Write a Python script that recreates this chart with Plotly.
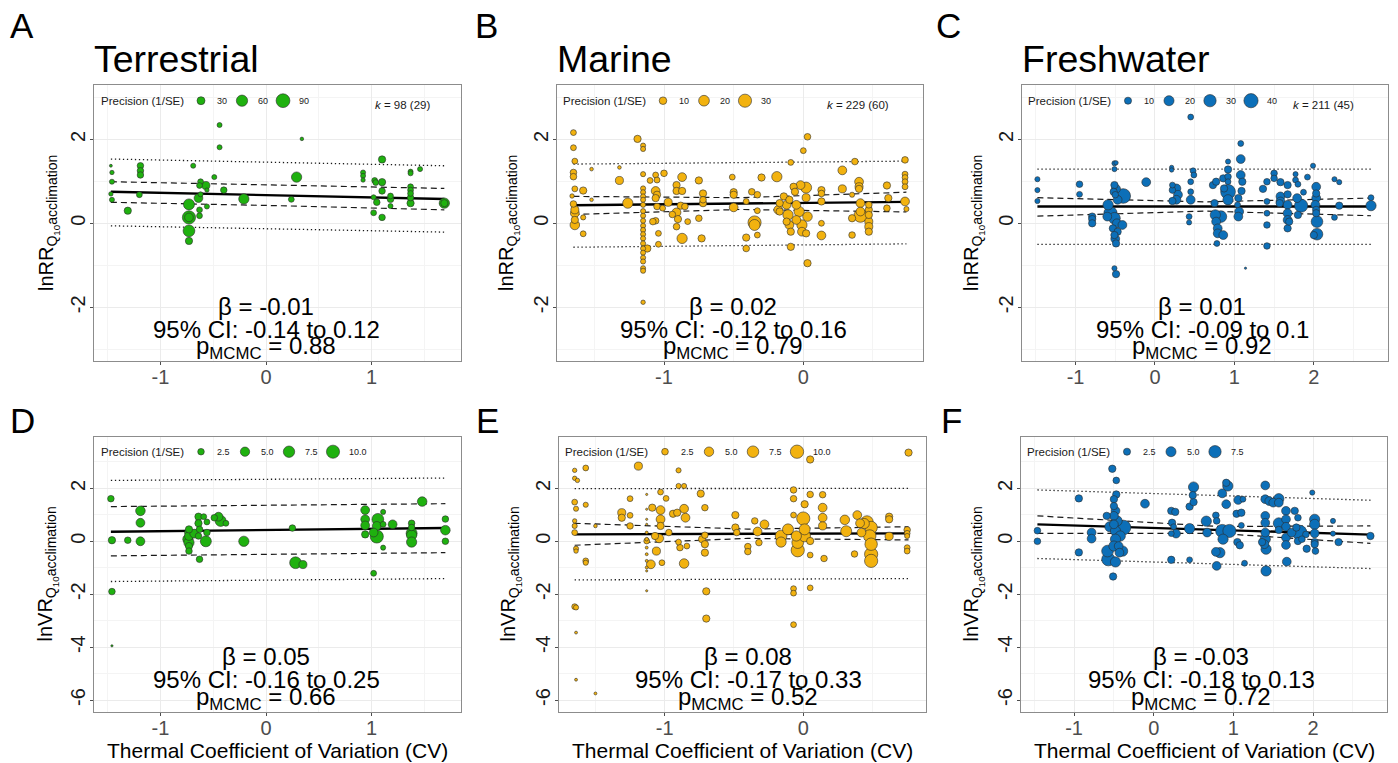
import math
import plotly.graph_objects as go

W, H = 1398, 763
FONT = "Liberation Sans, Arial, Helvetica, sans-serif"

GREEN = "#1FB10F"
GOLD = "#F2B20F"
BLUE = "#0C6FB8"

# ---------------- Panel A: Terrestrial lnRR ----------------
A_x = [-1.47,-1.46,-1.46,-1.47,-1.46,-1.31,-1.19,-1.19,-1.19,-1.20,
       -0.73,-0.73,-0.73,-0.73,-0.73,-0.69,-0.62,-0.63,-0.57,-0.56,
       -0.62,-0.64,-0.63,-0.63,-0.56,-0.49,-0.44,-0.44,-0.40,-0.21,
       0.24,0.29,0.34,0.92,0.92,0.92,1.10,1.03,1.04,1.10,
       1.10,1.02,1.05,1.02,1.10,1.18,1.18,1.18,1.37,1.37,
       1.37,1.37,1.37,1.37,1.37,1.46,1.69,1.69]
A_y = [1.37,1.21,0.99,0.70,0.56,0.30,1.37,1.25,1.15,0.68,
       0.45,0.14,0.14,-0.18,-0.42,1.37,0.99,0.90,0.90,0.79,
       0.69,0.60,0.32,0.18,0.40,1.10,2.34,1.81,0.79,0.58,
       0.57,1.10,2.01,1.21,1.13,1.03,1.52,1.02,0.97,0.98,
       0.77,0.62,0.50,0.25,0.14,0.65,0.57,0.41,1.23,1.19,
       0.87,0.79,0.71,0.61,0.48,1.29,0.48,0.48]
A_prec = [4,9,12,9,12,25,20,20,20,16,
          57,82,36,65,25,12,16,16,31,9,
          12,36,16,16,12,12,12,12,20,50,
          16,50,6,12,12,9,25,16,16,25,
          20,12,20,16,20,16,20,12,12,12,
          16,16,16,20,25,12,50,25]

# ---------------- Panel B: Marine lnRR ----------------
B_x = [-1.65,-1.65,-1.64,-1.65,-1.65,-1.64,-1.66,-1.65,-1.64,-1.64,
       -1.64,-1.64,-1.58,-1.58,-1.58,-1.52,-1.52,-1.32,-1.32,-1.26,
       -1.19,-1.15,-1.15,-1.15,-1.15,-1.15,-1.15,-1.15,-1.15,-1.15,
       -1.15,-1.15,-1.15,-1.15,-1.15,-1.15,-1.15,-1.15,-1.15,-1.15,
       -1.15,-1.15,-1.15,-1.15,-1.12,-1.10,-1.06,-1.05,-1.00,-1.06,
       -1.05,-1.06,-1.05,-1.06,-1.08,-1.04,-1.04,-1.01,-0.97,-0.91,
       -0.91,-0.87,-0.87,-0.88,-0.91,-0.90,-0.94,-0.91,-0.87,-0.85,
       -0.83,-0.75,-0.72,-0.72,-0.72,-0.75,-0.73,-0.51,-0.50,-0.50,
       -0.50,-0.41,-0.41,-0.41,-0.37,-0.35,-0.35,-0.33,-0.33,-0.33,
       -0.30,-0.19,-0.09,-0.17,-0.18,-0.17,-0.14,-0.12,-0.11,-0.12,
       -0.10,-0.10,-0.09,-0.09,-0.07,-0.06,-0.05,-0.05,-0.03,-0.02,
       -0.01,-0.01,0.02,0.02,0.03,0.02,0.00,0.03,0.03,0.13,
       0.13,0.13,0.13,0.13,0.28,0.28,0.35,0.37,0.35,0.35,
       0.40,0.40,0.40,0.41,0.41,0.41,0.47,0.47,0.47,0.47,
       0.47,0.47,0.60,0.61,0.60,0.73,0.73,0.73,0.73,0.73,
       0.73,0.74]
B_y = [2.16,1.80,1.48,1.21,1.11,0.82,0.65,0.46,0.32,0.24,
       -0.04,0.08,0.78,0.14,-0.25,1.29,0.56,1.33,1.02,0.48,
       2.01,1.85,1.77,1.17,0.83,0.74,0.64,0.56,0.44,0.29,
       0.18,0.06,-0.06,-0.16,-0.26,-0.36,-0.48,-0.60,-0.70,-0.82,
       -0.91,-1.07,-1.13,-1.88,-0.60,1.02,1.15,1.03,1.19,0.77,
       0.68,0.60,0.40,0.06,0.04,-0.24,-0.50,0.36,0.50,0.91,
       0.77,0.77,1.10,0.42,0.26,0.10,0.21,-0.08,-0.36,0.40,
       0.04,1.02,0.71,0.56,0.48,0.12,-0.36,1.10,0.74,0.68,
       0.38,0.52,-0.34,-0.60,0.75,0.02,-0.04,0.68,0.30,-0.28,
       1.09,1.11,1.45,0.48,0.32,0.28,0.64,0.44,0.20,0.04,
       0.56,-0.04,-0.20,-0.56,0.87,0.75,0.44,0.08,0.28,0.91,
       -0.04,-0.20,0.85,0.61,0.16,-0.24,1.73,2.06,-0.95,0.79,
       0.71,0.52,0.00,-0.29,1.26,0.82,0.68,1.47,0.12,-0.28,
       0.99,0.87,0.82,0.48,0.28,0.18,0.44,0.32,0.20,0.04,
       -0.08,-0.20,0.90,0.60,0.36,1.51,1.17,1.09,0.99,0.87,
       0.52,0.34]
B_prec = [6,6,6,7.6,7.6,6,3.4,7.6,11.3,13.4,
          15.8,9.3,9.3,4.6,6,2.3,2.3,2.3,11.3,18.3,
          9.3,4.6,4.6,4.6,4.6,4.6,4.6,4.6,4.6,4.6,
          4.6,4.6,4.6,4.6,4.6,4.6,4.6,4.6,4.6,4.6,
          4.6,4.6,4.6,3.4,9.3,6,6,6,7.6,13.4,
          9.3,9.3,7.6,7.6,7.6,6,6,6,11.3,9.3,
          9.3,9.3,13.4,9.3,13.4,9.3,7.6,7.6,18.3,7.6,
          6,9.3,9.3,7.6,9.3,7.6,9.3,6,9.3,9.3,
          13.4,6,9.3,7.6,7.6,30,21,7.6,6,6,
          9.3,18.3,6,9.3,13.4,9.3,9.3,13.4,18.3,9.3,
          9.3,13.4,9.3,9.3,9.3,9.3,13.4,13.4,18.3,13.4,
          18.3,13.4,21,11.3,15.8,9.3,6,7.6,9.3,9.3,
          7.6,9.3,6,13.4,13.4,11.3,4.6,7.6,9.3,7.6,
          13.4,11.3,9.3,13.4,13.4,30,7.6,9.3,9.3,11.3,
          11.3,9.3,9.3,9.3,7.6,7.6,6,6,6,6,
          13.4,4.6]

# ---------------- Panel C: Freshwater lnRR ----------------
C_x = [-1.48,-1.48,-1.48,-0.95,-0.95,-0.79,-0.79,-0.79,-0.51,-0.49,
       -0.51,-0.51,-0.49,-0.52,-0.50,-0.47,-0.59,-0.56,-0.60,-0.51,
       -0.48,-0.53,-0.47,-0.51,-0.50,-0.49,-0.41,-0.40,-0.51,-0.49,
       -0.11,0.21,0.21,0.22,0.22,0.27,0.29,0.27,0.22,0.45,
       0.48,0.49,0.45,0.45,0.45,0.43,0.43,0.73,0.75,0.77,
       0.76,0.77,0.79,0.79,0.86,0.78,0.83,0.87,0.92,0.92,
       0.92,0.92,0.92,0.92,0.86,1.08,1.08,1.08,1.10,1.09,
       1.05,1.06,1.05,1.04,1.14,1.36,1.41,1.50,1.50,1.58,
       1.41,1.41,1.41,1.41,1.58,1.58,1.57,1.67,1.67,1.67,
       1.67,1.67,1.67,1.69,1.77,1.77,1.80,1.87,1.79,1.84,
       1.80,1.92,1.99,2.03,2.03,2.03,2.02,2.03,2.03,2.04,
       2.04,2.00,2.26,2.32,2.32,2.26,2.72,2.72]
C_y = [1.05,0.79,0.53,0.93,0.69,0.16,0.10,0.00,1.43,1.44,
       1.29,0.91,0.82,0.75,0.68,0.56,0.44,0.24,0.16,0.12,
       0.00,-0.12,-0.20,-0.28,-0.37,-0.48,-0.04,0.65,-1.07,-1.21,
       0.98,1.33,1.27,0.91,0.79,0.83,0.68,0.56,0.53,2.53,
       1.25,1.15,0.99,0.75,0.56,0.16,0.02,0.91,0.48,0.99,
       0.20,0.04,-0.12,-0.24,-0.28,-0.48,0.16,0.83,0.75,0.56,
       1.47,1.28,1.11,0.99,1.07,1.90,1.53,1.15,0.99,0.77,
       0.60,0.28,0.16,0.44,-1.07,0.82,0.99,1.19,1.07,0.98,
       0.52,0.24,-0.04,-0.54,0.64,0.52,0.48,0.91,0.69,0.44,
       0.24,0.08,-0.12,0.04,1.17,1.03,0.93,0.74,0.60,0.42,
       0.20,1.10,1.37,0.87,0.71,0.60,0.44,0.32,0.24,0.04,
       -0.26,-0.28,1.05,0.98,0.42,0.14,0.61,0.42]
C_prec = [5.2,5.2,5.2,8.6,6.8,10.7,10.7,10.7,5.2,3.8,
          5.2,10.7,15.4,10.7,8.6,15.4,21,35,15.4,27,
          15.4,10.7,10.7,10.7,15.4,10.7,15.4,43,5.2,10.7,
          15.4,3.8,3.8,6.8,8.6,15.4,15.4,15.4,10.7,6.8,
          6.8,6.8,6.8,6.8,15.4,6.8,5.2,10.7,10.7,10.7,
          21,15.4,15.4,15.4,15.4,6.8,27,10.7,43,21,
          5.2,10.7,8.6,6.8,10.7,6.8,15.4,15.4,10.7,10.7,
          10.7,15.4,15.4,6.8,1,10.7,8.6,8.6,8.6,10.7,
          6.8,6.8,8.6,8.6,15.4,15.4,10.7,10.7,10.7,15.4,
          15.4,15.4,10.7,10.7,5.2,6.8,6.8,6.8,15.4,35,
          10.7,6.8,5.2,15.4,10.7,15.4,15.4,10.7,10.7,27,
          27,10.7,5.2,5.2,10.7,6.8,6.8,21]

# ---------------- Panel D: Terrestrial lnVR ----------------
D_x = [-1.47,-1.46,-1.46,-1.46,-1.31,-1.19,-1.19,-1.19,-0.73,-0.73,
       -0.73,-0.74,-0.73,-0.73,-0.73,-0.68,-0.64,-0.64,-0.63,-0.64,
       -0.63,-0.56,-0.56,-0.57,-0.49,-0.45,-0.43,-0.38,-0.59,-0.21,
       0.25,0.28,0.35,0.94,0.94,0.94,0.94,1.06,1.05,1.05,
       1.11,1.11,1.02,1.11,1.02,1.20,1.38,1.38,1.38,1.38,
       1.38,1.48,1.70,1.70,1.70]
D_y = [1.61,0.04,-1.90,-3.95,0.04,1.15,0.70,0.00,0.45,0.33,
       0.20,0.08,-0.05,-0.18,-0.37,0.29,0.93,0.68,0.45,0.20,
       -0.68,0.73,0.33,0.00,0.89,0.93,0.77,0.68,0.93,0.00,
       0.50,-0.81,-0.88,1.18,0.83,0.60,0.26,0.83,0.58,0.18,
       1.11,0.64,0.33,-0.24,-1.21,0.64,0.68,0.52,0.30,0.23,
       -0.03,1.50,0.84,0.42,0.00]
D_prec = [2.5,3.1,2.5,0.3,2.5,5.3,4.5,4.5,3.1,4.5,
          4.5,6.1,6.1,3.1,2.5,4.5,3.1,3.1,2.5,2.5,
          2.5,2,2.5,7,2.5,4.5,7,2,2,6.1,
          2.5,8,3.8,4.5,4.5,4.5,3.1,8,4.5,10,
          1.5,2,4.5,1.5,2,4.5,2.5,2.5,7,6.1,
          6.1,5.3,2.5,5.3,2.5]

# ---------------- Panel E: Marine lnVR ----------------
E_x = [-1.65,-1.65,-1.63,-1.57,-1.19,-1.65,-1.64,-1.57,-1.65,-1.65,
       -1.65,-1.64,-1.64,-1.57,-1.57,-1.50,-1.65,-1.64,-1.64,-1.64,
       -1.50,-1.31,-1.31,-1.25,-1.25,-1.25,-1.13,-1.13,-1.13,-1.13,
       -1.13,-1.13,-1.13,-1.13,-1.13,-1.13,-1.13,-1.13,-1.13,-1.09,
       -1.07,-1.06,-1.10,-1.04,-1.03,-1.03,-1.03,-1.03,-1.02,-0.99,
       -0.97,-0.94,-0.91,-0.90,-0.90,-0.86,-0.90,-0.86,-0.85,-0.89,
       -0.84,-0.86,-0.74,-0.71,-0.73,-0.71,-0.71,-0.71,-0.70,-0.70,
       -0.49,-0.49,-0.48,-0.40,-0.40,-0.35,-0.33,-0.32,-0.28,-0.16,
       -0.16,-0.11,-0.07,-0.07,-0.07,-0.07,-0.07,-0.07,-0.05,-0.04,
       -0.04,0.00,0.01,0.01,0.01,0.05,0.05,0.05,0.05,0.05,
       0.14,0.14,0.14,0.14,0.15,0.30,0.31,0.37,0.39,0.41,
       0.42,0.44,0.46,0.49,0.48,0.49,0.49,0.49,0.62,0.62,
       0.62,0.76,0.75,0.75,0.75,0.75,0.75]
E_y = [2.68,2.38,2.30,2.77,2.84,1.48,1.23,1.38,0.77,0.58,
       0.33,-0.28,-0.37,-0.74,-0.81,0.58,-2.47,-2.50,-3.45,-5.23,
       -5.75,1.08,0.89,1.61,0.98,0.58,1.77,1.21,0.83,0.64,
       0.33,0.08,0.01,-0.24,-0.49,-0.74,-0.99,-1.12,-1.87,1.27,
       0.20,-0.37,-0.87,0.11,1.86,1.18,0.83,0.58,-0.81,1.62,
       0.33,1.04,1.08,2.68,2.09,2.09,-0.03,1.23,0.89,-0.24,
       -0.18,-0.84,1.80,1.27,0.08,-0.11,-0.43,0.23,-1.89,-2.92,
       0.99,0.52,0.33,-0.20,-0.39,0.77,0.37,-0.05,0.64,0.20,
       -0.03,0.45,1.94,1.61,0.99,-1.79,-1.96,-3.15,0.20,-0.05,
       -0.34,0.86,0.45,1.40,0.20,3.09,1.77,0.01,-0.52,-1.76,
       1.76,1.27,0.89,0.58,-0.65,0.81,0.38,-0.48,0.99,0.68,
       0.33,0.67,0.73,0.52,0.20,-0.11,-0.49,-0.74,0.93,0.83,
       0.19,3.35,0.43,0.30,0.20,-0.24,-0.37]
E_prec = [1.1,1.1,1.1,1.9,3.7,1.9,1.5,1.5,1.1,1.5,
          1.9,1.5,1.1,1.9,1.5,0.76,1.9,1.5,0.48,0.48,
          0.48,3.7,3,1.9,1.9,2.4,0.27,0.27,0.27,0.27,
          0.48,0.76,1.9,0.48,0.48,0.48,0.48,0.27,0.27,3,
          3,3.7,4.35,4.35,1.9,4.35,4.35,3,1.9,1.9,
          2.4,3,3,1.5,1.5,1.5,1.9,4.35,4.35,2.4,
          1.9,5.1,3,2.4,3,3,3,2.4,3,3,
          3,3,2.4,2.4,2.4,2.4,4.35,2.4,4.35,7.7,
          5.9,6.8,2.4,2.4,1.9,1.9,1.9,1.9,5.9,7.7,
          9.8,9.8,6.8,3,7.7,3,2.4,3,1.9,1.9,
          2.4,4.35,4.35,3.7,2.4,5.1,6.8,2.4,4.35,4.35,
          4.35,5.9,8.7,8.7,8.7,8.7,9.8,9.8,3,3,
          3.7,3,2.4,1.9,1.5,1.9,1.9]

# ---------------- Panel F: Freshwater lnVR ----------------
F_x = [-1.46,-1.46,-0.94,-0.94,-0.78,-0.78,-0.52,-0.47,-0.47,-0.50,
       -0.50,-0.48,-0.50,-0.46,-0.50,-0.55,-0.38,-0.48,-0.42,-0.48,
       -0.50,-0.44,-0.39,-0.58,-0.57,-0.48,-0.51,-0.43,-0.59,-0.11,
       0.22,0.27,0.23,0.25,0.28,0.22,0.22,0.45,0.45,0.45,
       0.50,0.49,0.50,0.66,0.67,0.78,0.79,0.78,0.83,0.79,
       0.86,0.87,0.95,0.86,0.91,0.93,0.91,1.06,1.04,1.10,
       1.05,1.08,1.10,1.14,1.12,1.40,1.40,1.40,1.40,1.40,
       1.40,1.39,1.41,1.41,1.36,1.45,1.50,1.57,1.57,1.57,
       1.57,1.66,1.66,1.66,1.66,1.66,1.67,1.73,1.77,1.81,
       1.83,1.81,1.91,1.92,1.86,1.79,1.99,2.02,2.02,2.02,
       2.02,2.02,2.03,2.25,2.25,2.32,2.72]
F_y = [0.40,0.00,1.62,-0.42,0.33,0.10,2.74,2.30,1.77,1.59,
       1.33,1.15,0.96,0.77,0.64,0.55,0.52,0.39,0.20,0.08,
       -0.18,-0.18,-0.37,-0.37,-0.68,-0.78,-1.33,-0.43,0.96,1.42,
       1.15,1.11,0.70,0.55,0.29,0.29,-0.70,0.48,-0.70,1.31,
       1.48,1.74,2.05,0.76,0.33,0.98,0.77,-0.40,-0.43,-0.93,
       0.39,0.08,0.39,1.81,2.21,2.09,1.40,1.56,1.04,1.08,
       -0.03,-0.15,0.60,-0.83,1.59,2.11,1.59,0.96,0.70,0.33,
       0.08,-0.11,-0.30,-1.12,-0.03,1.52,1.46,1.61,1.46,0.68,
       0.43,1.15,0.83,0.55,0.14,-0.14,-0.77,0.33,1.15,0.89,
       0.33,0.01,0.26,-0.28,0.08,0.52,1.84,0.83,0.64,0.30,
       -0.03,-0.11,-0.37,0.77,0.29,-0.03,0.20]
F_prec = [2.2,2.2,2.7,2.7,3.8,3.8,2.7,2.2,2.7,2.7,
          2.7,3.8,3.8,5.2,3.8,5.2,10.7,5.2,5.2,5.2,
          5.2,3.8,5.2,6.8,8.6,5.2,2.7,3.8,2.7,3.8,
          2.7,2.7,2.7,1.7,3.8,1.7,2.7,5.2,1.7,2.7,
          2.7,2.7,5.2,5.2,3.8,2.2,2.2,3.8,5.2,3.8,
          8.6,5.2,8.6,3.8,2.7,5.2,3.8,3.8,2.7,2.7,
          2.7,2.7,1.7,1.7,1.7,3.8,3.8,3.8,3.8,3.8,
          5.2,3.8,5.2,5.2,2.7,3.8,3.8,5.2,3.8,6,
          2.7,3.8,3.8,3.8,3.8,3.8,3.8,3.8,2.7,2.2,
          10.7,2.7,2.2,2.7,2.2,2.7,1.3,5.2,5.2,3.8,
          2.7,2.7,2.2,1.3,1.3,2.7,2.7]

# ---------------- Fitted lines (fit, 95% CI, prediction interval) ----------------
A_lx = [-1.47, 0.10, 1.69]
A_fit = [0.75, 0.67, 0.58]; A_cil = [0.50, 0.42, 0.32]; A_cih = [0.99, 0.91, 0.83]
A_pil = [-0.06, -0.13, -0.21]; A_pih = [1.53, 1.45, 1.37]
B_lx = [-1.65, -0.45, 0.74]
B_fit = [0.43, 0.47, 0.51]; B_cil = [0.21, 0.33, 0.27]; B_cih = [0.64, 0.61, 0.74]
B_pil = [-0.57, -0.53, -0.49]; B_pih = [1.41, 1.45, 1.48]
C_lx = [-1.48, 0.62, 2.72]
C_fit = [0.40, 0.40, 0.40]; C_cil = [0.17, 0.29, 0.18]; C_cih = [0.61, 0.51, 0.60]
C_pil = [-0.50, -0.50, -0.50]; C_pih = [1.29, 1.29, 1.29]
D_lx = [-1.47, 0.10, 1.70]
D_fit = [0.36, 0.43, 0.50]; D_cil = [-0.55, -0.49, -0.43]; D_cih = [1.31, 1.36, 1.42]
D_pil = [-1.52, -1.47, -1.41]; D_pih = [2.30, 2.35, 2.39]
E_lx = [-1.65, -0.40, 0.76]
E_fit = [0.26, 0.28, 0.30]; E_cil = [-0.15, 0.11, 0.05]; E_cih = [0.68, 0.46, 0.55]
E_pil = [-1.46, -1.44, -1.41]; E_pih = [1.99, 2.00, 2.00]
F_lx = [-1.46, 0.80, 2.72]
F_fit = [0.64, 0.43, 0.25]; F_cil = [0.30, 0.30, -0.08]; F_cih = [0.96, 0.56, 0.58]
F_pil = [-0.65, -0.84, -1.03]; F_pih = [1.94, 1.74, 1.55]

# ---------------- Text ----------------
LETTERS = ["A", "B", "C", "D", "E", "F"]
TITLES = ["Terrestrial", "Marine", "Freshwater"]
BETA = ["β = -0.01", "β = 0.02", "β = 0.01", "β = 0.05", "β = 0.08", "β = -0.03"]
CI = ["95% CI: -0.14 to 0.12", "95% CI: -0.12 to 0.16", "95% CI: -0.09 to 0.1",
      "95% CI: -0.16 to 0.25", "95% CI: -0.17 to 0.33", "95% CI: -0.18 to 0.13"]
PVAL = ["0.88", "0.79", "0.92", "0.66", "0.52", "0.72"]
K_TEXT = ["98 (29)", "229 (60)", "211 (45)"]
LEG_VALS = [[30, 60, 90], [10, 20, 30], [10, 20, 30, 40],
            [2.5, 5.0, 7.5, 10.0], [2.5, 5.0, 7.5, 10.0], [2.5, 5.0, 7.5]]
LEG_LABELS = [["30", "60", "90"], ["10", "20", "30"], ["10", "20", "30", "40"],
              ["2.5", "5.0", "7.5", "10.0"], ["2.5", "5.0", "7.5", "10.0"], ["2.5", "5.0", "7.5"]]
X_TICKS = [[-1, 0, 1], [-1, 0], [-1, 0, 1, 2], [-1, 0, 1], [-1, 0], [-1, 0, 1, 2]]
Y_TICKS_TOP = [-2, 0, 2]
Y_TICKS_BOT = [-6, -4, -2, 0, 2]
X_TITLE = "Thermal Coefficient of Variation (CV)"
Y_TITLE_TOP = "lnRR<sub>Q<sub>10</sub>acclimation</sub>"
Y_TITLE_BOT = "lnVR<sub>Q<sub>10</sub>acclimation</sub>"

# ---------------- Layout geometry (pixels) ----------------
BOX = [(94, 461, 85, 361), (557, 923, 85, 361), (1022, 1388, 85, 361),
       (94, 461, 437, 712), (559, 926, 437, 712), (1021, 1387, 437, 712)]
XR = [(-1.630, 1.848), (-1.768, 0.859), (-1.674, 2.934),
      (-1.630, 1.848), (-1.763, 0.886), (-1.666, 2.928)]
YR_TOP = (-3.279, 3.293)
YR_BOT = (-6.45, 3.94)
SIZE_SCALE = 1.1
SREF = [0.57, 0.21, 0.24, 0.07, 0.068, 0.06]   # precision per px^2 of diameter
COLORS = [GREEN, GOLD, BLUE, GREEN, GOLD, BLUE]
STAT_X = [266, 733, 1202, 266, 748, 1201]
STAT_Y_TOP = [306, 329, 347]
STAT_Y_BOT = [656, 679.5, 698.5]
LETTER_X = [8, 473, 934, 8, 474, 939]
LEG_TITLE_X = [100, 562, 1027, 100, 564, 1026]
YT_X = [48, 508, 973, 47, 510, 973]
K_RIGHT = [432, 891, 1356]

DATA = [(A_x, A_y, A_prec), (B_x, B_y, B_prec), (C_x, C_y, C_prec),
        (D_x, D_y, D_prec), (E_x, E_y, E_prec), (F_x, F_y, F_prec)]
LINES = [(A_lx, A_fit, A_cil, A_cih, A_pil, A_pih), (B_lx, B_fit, B_cil, B_cih, B_pil, B_pih),
         (C_lx, C_fit, C_cil, C_cih, C_pil, C_pih), (D_lx, D_fit, D_cil, D_cih, D_pil, D_pih),
         (E_lx, E_fit, E_cil, E_cih, E_pil, E_pih), (F_lx, F_fit, F_cil, F_cih, F_pil, F_pih)]


def px(xp):
    return xp / W


def py(yp):
    return 1 - yp / H


def diam(p, sref):
    return SIZE_SCALE * math.sqrt(p / sref)


def tick_text(vals):
    return [str(v) for v in vals]


fig = go.Figure()
annotations = []
shapes = []
layout_axes = {}

for i in range(6):
    n = i + 1
    xa = "x" if n == 1 else f"x{n}"
    ya = "y" if n == 1 else f"y{n}"
    l, r, t, b = BOX[i]
    top = i < 3
    lx, fit, cil, cih, pil, pih = LINES[i]
    for ys, dash, width in [(pih, "1.3px,2.7px", 1.3), (pil, "1.3px,2.7px", 1.3),
                            (cih, "6px,4px", 1.2), (cil, "6px,4px", 1.2)]:
        fig.add_trace(go.Scatter(x=lx, y=ys, mode="lines", xaxis=xa, yaxis=ya,
                                 line=dict(color="#1a1a1a", width=width, dash=dash),
                                 hoverinfo="skip", showlegend=False))
    fig.add_trace(go.Scatter(x=lx, y=fit, mode="lines", xaxis=xa, yaxis=ya,
                             line=dict(color="black", width=2.4),
                             hoverinfo="skip", showlegend=False))
    xs, ys, ps = DATA[i]
    m = min(len(xs), len(ys), len(ps))
    order = sorted(range(m), key=lambda k: -ps[k])
    fig.add_trace(go.Scatter(
        x=[xs[k] for k in order], y=[ys[k] for k in order], mode="markers",
        xaxis=xa, yaxis=ya, showlegend=False,
        marker=dict(size=[diam(ps[k], SREF[i]) for k in order], color=COLORS[i],
                    line=dict(color="#2b2b2b", width=0.6), opacity=1)))

    key_x = "xaxis" if n == 1 else f"xaxis{n}"
    key_y = "yaxis" if n == 1 else f"yaxis{n}"
    yt = Y_TICKS_TOP if top else Y_TICKS_BOT
    layout_axes[key_x] = dict(
        domain=[px(l), px(r)], range=list(XR[i]), anchor=ya,
        tickmode="array", tickvals=X_TICKS[i], ticktext=tick_text(X_TICKS[i]),
        showgrid=True, gridcolor="#EBEBEB", gridwidth=1.1,
        minor=dict(dtick=0.5, tick0=0, showgrid=True, gridcolor="#F4F4F4", gridwidth=0.7),
        zeroline=False, showline=True, mirror=True, linecolor="#8C8C8C", linewidth=1.1,
        ticks="outside", ticklen=3, tickcolor="#4D4D4D", tickwidth=1, ticklabelstandoff=-5,
        tickfont=dict(family=FONT, size=20, color="#4D4D4D"))
    layout_axes[key_y] = dict(
        domain=[py(b), py(t)], range=list(YR_TOP if top else YR_BOT), anchor=xa,
        tickmode="array", tickvals=yt, ticktext=tick_text(yt),
        showgrid=True, gridcolor="#EBEBEB", gridwidth=1.1,
        minor=dict(dtick=1, tick0=0, showgrid=True, gridcolor="#F4F4F4", gridwidth=0.7),
        zeroline=False, showline=True, mirror=True, linecolor="#8C8C8C", linewidth=1.1,
        ticks="outside", ticklen=3, tickcolor="#4D4D4D", tickwidth=1, tickangle=-90,
        ticklabelstandoff=-3,
        tickfont=dict(family=FONT, size=20, color="#1a1a1a"))

    # panel letter
    annotations.append(dict(text=LETTERS[i], x=px(LETTER_X[i]), y=py(25.5 if top else 420),
                            xref="paper", yref="paper", xanchor="left", yanchor="middle",
                            showarrow=False, font=dict(family=FONT, size=35, color="black")))
    if top:
        annotations.append(dict(text=TITLES[i], x=px(l - 2), y=py(58.6), xref="paper", yref="paper",
                                xanchor="left", yanchor="middle", showarrow=False,
                                font=dict(family=FONT, size=37.5, color="black")))
        annotations.append(dict(text=f"<i>k</i> = {K_TEXT[i]}", x=px(K_RIGHT[i]), y=py(105.5),
                                xref="paper", yref="paper", xanchor="right", yanchor="middle",
                                showarrow=False, font=dict(family=FONT, size=11.5, color="#1a1a1a")))
    else:
        annotations.append(dict(text=X_TITLE, x=px((l + r) / 2), y=py(750.5), xref="paper",
                                yref="paper", xanchor="center", yanchor="middle", showarrow=False,
                                font=dict(family=FONT, size=21, color="black")))
    # y title
    annotations.append(dict(text=Y_TITLE_TOP if top else Y_TITLE_BOT, textangle=-90,
                            x=px(YT_X[i]), y=py((t + b) / 2), xref="paper", yref="paper",
                            xanchor="center", yanchor="middle", showarrow=False,
                            font=dict(family=FONT, size=20, color="black")))
    # stats
    sy = STAT_Y_TOP if top else STAT_Y_BOT
    for txt, yy in zip([BETA[i], CI[i], f"p<sub>MCMC</sub> = {PVAL[i]}"], sy):
        annotations.append(dict(text=txt, x=px(STAT_X[i]), y=py(yy), xref="paper", yref="paper",
                                xanchor="center", yanchor="middle", showarrow=False,
                                font=dict(family=FONT, size=24, color="black")))
    # legend (precision)
    ly = 100.7 if top else 451.7
    tx = LEG_TITLE_X[i]
    annotations.append(dict(text="Precision (1/SE)", x=px(tx - 1), y=py(ly), xref="paper",
                            yref="paper", xanchor="left", yanchor="middle", showarrow=False,
                            font=dict(family=FONT, size=11.5, color="#1a1a1a")))
    step = 41 if top else 44
    for j, (v, lab) in enumerate(zip(LEG_VALS[i], LEG_LABELS[i])):
        cx = tx + 101 + j * step
        d = diam(v, SREF[i])
        shapes.append(dict(type="circle", xref="paper", yref="paper",
                           xsizemode="pixel", ysizemode="pixel",
                           xanchor=px(cx), yanchor=py(ly),
                           x0=-d / 2, x1=d / 2, y0=-d / 2, y1=d / 2,
                           fillcolor=COLORS[i], line=dict(color="#2b2b2b", width=0.6)))
        annotations.append(dict(text=lab, x=px(cx + 14), y=py(ly), xref="paper", yref="paper",
                                xanchor="left", yanchor="middle", showarrow=False,
                                font=dict(family=FONT, size=9, color="#1a1a1a")))

fig.update_layout(
    width=W, height=H, autosize=False,
    margin=dict(l=0, r=0, t=0, b=0),
    paper_bgcolor="white", plot_bgcolor="white",
    showlegend=False,
    font=dict(family=FONT),
    annotations=annotations, shapes=shapes,
    **layout_axes)

fig.write_html("out.html", config={"displayModeBar": False},
               post_script="document.body.style.margin='0';document.body.style.overflow='hidden';")
